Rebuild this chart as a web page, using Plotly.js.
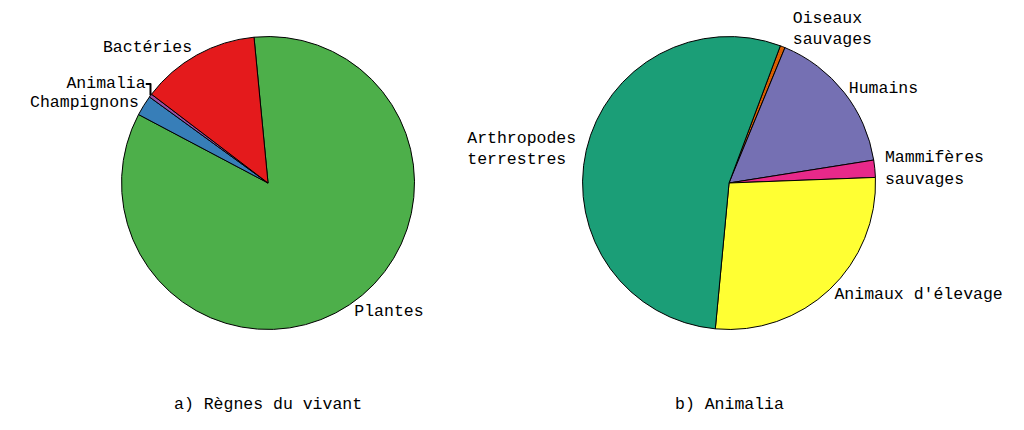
<!DOCTYPE html>
<html>
<head>
<meta charset="utf-8">
<script src="https://cdn.plot.ly/plotly-3.0.1.min.js"></script>
<style>
  html, body { margin: 0; padding: 0; background: #fff; }
  #chart { width: 1024px; height: 430px; }
</style>
</head>
<body>
<div id="chart"></div>
<script>
// biomasse (Gt C)
var regnes = ['Plantes', 'Champignons', 'Animalia', 'Bactéries'];
var biomasseRegnes = [450, 12, 2, 70];

var groupesAnimaux = ['Oiseaux<br>sauvages', 'Humains', 'Mammifères<br>sauvages', "Animaux d'élevage", 'Arthropodes<br>terrestres'];
var biomasseAnimaux = [0.002, 0.06, 0.007, 0.1, 0.2];

var titres = ['a) Règnes du vivant', 'b) Animalia'];

var police = {family: '"Liberation Mono", "Courier New", monospace', size: 16.5, color: '#000'};

// plotly centre les lignes : on complète à droite (police à chasse fixe) pour aligner à gauche
function alignerGauche(label) {
    var lignes = label.split('<br>');
    var n = Math.max.apply(null, lignes.map(function(l) { return l.length; }));
    return lignes.map(function(l) {
        while (l.length < n) l += '\u00a0';
        return l;
    }).join('<br>');
}

var regnesPie = {
    type: 'pie',
    labels: regnes,
    values: biomasseRegnes,
    sort: false,
    direction: 'clockwise',
    rotation: -5.5,
    textinfo: 'label',
    textposition: 'outside',
    outsidetextfont: police,
    marker: {
      colors: ['#4daf4a', '#377eb8', '#984ea3', '#e41a1c'],
      line: {color: '#000', width: 1}
    },
    domain: {x: [0.1187, 0.4048], y: [0.2337, 0.9151]},
    showlegend: false,
    hoverinfo: 'skip'
};

var animauxPie = {
    type: 'pie',
    labels: groupesAnimaux,
    text: groupesAnimaux.map(alignerGauche),
    values: biomasseAnimaux,
    sort: false,
    direction: 'clockwise',
    rotation: 20.5,
    textinfo: 'text',
    textposition: 'outside',
    outsidetextfont: police,
    marker: {
      colors: ['#d95f02', '#7570b3', '#e7298a', '#ffff33', '#1b9e77'],
      line: {color: '#000', width: 1}
    },
    domain: {x: [0.5689, 0.8550], y: [0.2337, 0.9151]},
    showlegend: false,
    hoverinfo: 'skip'
};

var layout = {
    width: 1024,
    height: 430,
    margin: {l: 0, r: 0, t: 0, b: 0},
    paper_bgcolor: '#fff',
    font: police,
    annotations: [
      {text: titres[0], x: 268 / 1024, y: 26 / 430, xref: 'paper', yref: 'paper', showarrow: false, xanchor: 'center', yanchor: 'middle', font: police},
      {text: titres[1], x: 729 / 1024, y: 26 / 430, xref: 'paper', yref: 'paper', showarrow: false, xanchor: 'center', yanchor: 'middle', font: police}
    ]
};

Plotly.newPlot('chart', [regnesPie, animauxPie], layout, {displayModeBar: false, staticPlot: true});
</script>
</body>
</html>
